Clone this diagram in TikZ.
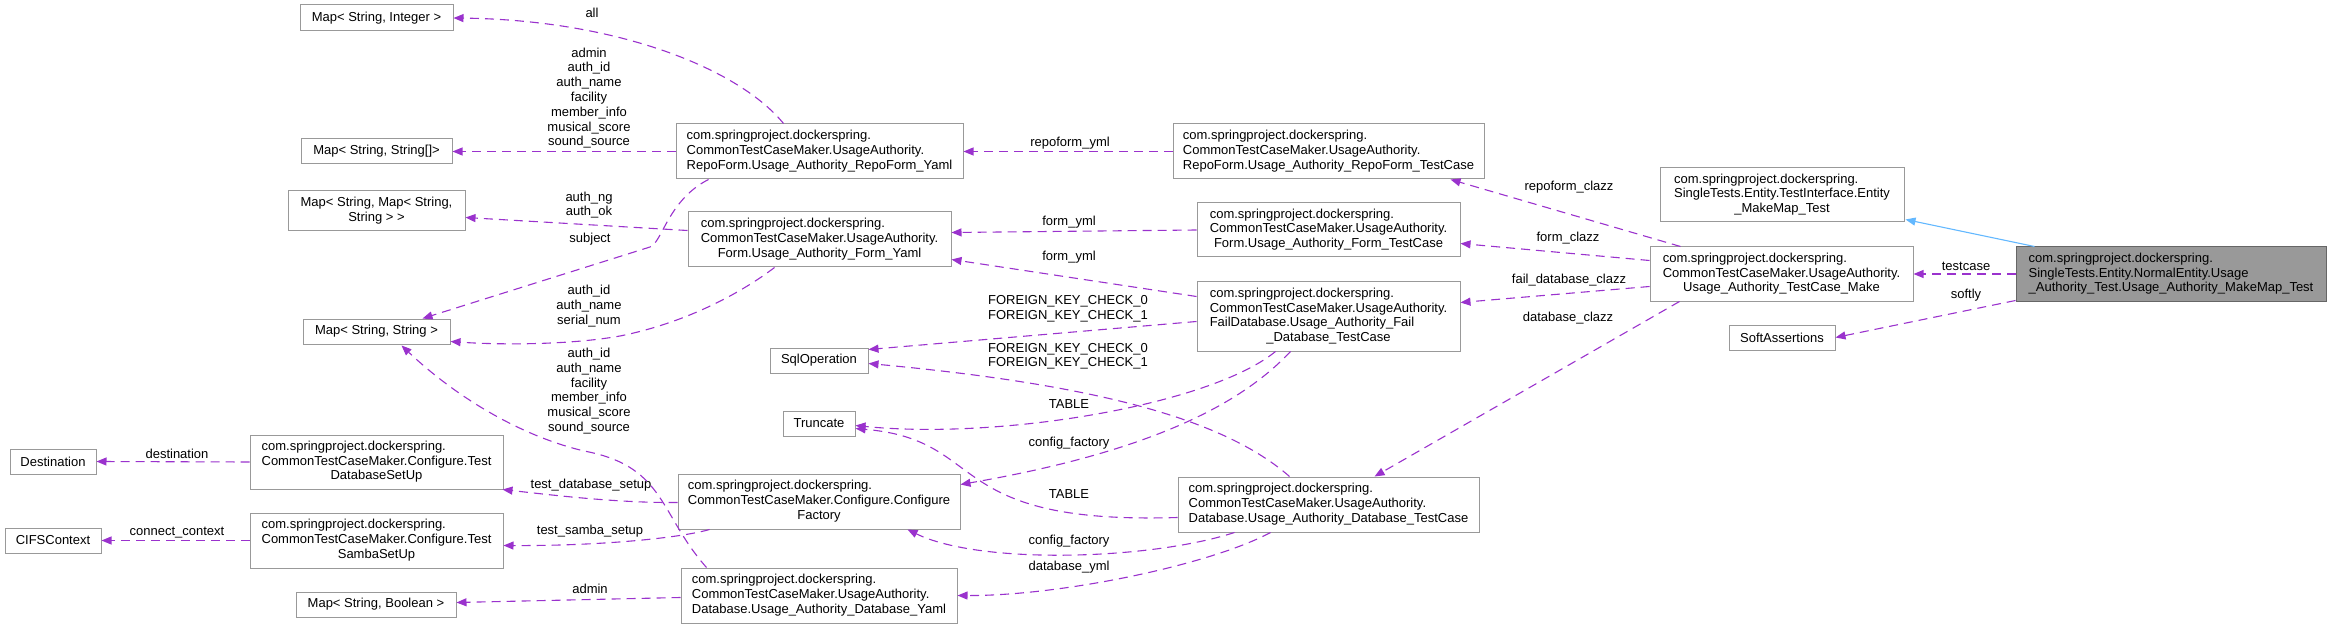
\documentclass[tikz,border=0pt]{standalone}
\usepackage{fontspec}
\usepackage{array}
\setmainfont{Liberation Sans}
\usetikzlibrary{arrows.meta}
\definecolor{edgec}{HTML}{9A32CD}
\definecolor{inhc}{HTML}{63B8FF}
\definecolor{boxb}{HTML}{999999}
\definecolor{mainf}{HTML}{999999}
\definecolor{mainb}{HTML}{666666}
\newcommand{\myst}{\rule[-4.4pt]{0pt}{14.8pt}}
\newcommand{\clsl}[2]{{\renewcommand{\arraystretch}{0}\begin{tabular}{@{}>{\myst}l@{}}#1\\\multicolumn{1}{@{}>{\myst}c@{}}{#2}\end{tabular}}}
\newcommand{\lblc}[1]{{\renewcommand{\arraystretch}{0}\begin{tabular}{@{}>{\myst}c@{}}#1\end{tabular}}}
\tikzset{
 cls/.style={draw=boxb, line width=1pt, fill=white, inner sep=0pt, font=\fontsize{13}{14.8}\selectfont},
 mainbox/.style={cls, draw=mainb, fill=mainf},
 uses/.style={draw=edgec, line width=1.1pt, dash pattern=on 9pt off 6pt, -{Triangle[length=10pt,width=8pt]}},
 inh/.style={draw=inhc, line width=1.1pt, -{Triangle[length=10pt,width=8pt]}},
 lbl/.style={font=\fontsize{13}{14.8}\selectfont, inner sep=0pt},
}
\begin{document}
\begin{tikzpicture}[x=1pt,y=-1pt]
\useasboundingbox (0,0) rectangle (2331,628);
% class boxes
\node[cls, minimum width=153pt, minimum height=26pt] (mInt) at (376.5,18) {Map< String, Integer >};
\node[cls, minimum width=151pt, minimum height=25pt] (mArr) at (376.5,151.5) {Map< String, String[]>};
\node[cls, minimum width=177pt, minimum height=40pt] (mMap) at (376.5,211) {\clsl{Map< String, Map< String,}{String > >}};
\node[cls, minimum width=147pt, minimum height=25pt] (mStr) at (376.5,331.5) {Map< String, String >};
\node[cls, minimum width=86pt, minimum height=25pt] (dest) at (53,461.5) {Destination};
\node[cls, minimum width=96pt, minimum height=25pt] (cifs) at (53,540.5) {CIFSContext};
\node[cls, minimum width=253pt, minimum height=54pt] (tdb) at (376.5,462) {\clsl{com.springproject.dockerspring.\\CommonTestCaseMaker.Configure.Test}{DatabaseSetUp}};
\node[cls, minimum width=253pt, minimum height=55pt] (tsmb) at (376.5,540.5) {\clsl{com.springproject.dockerspring.\\CommonTestCaseMaker.Configure.Test}{SambaSetUp}};
\node[cls, minimum width=160pt, minimum height=25pt] (mBool) at (376,604.5) {Map< String, Boolean >};
\node[cls, minimum width=287pt, minimum height=55pt] (rfy) at (819.5,151.5) {\clsl{com.springproject.dockerspring.\\CommonTestCaseMaker.UsageAuthority.}{RepoForm.Usage\_Authority\_RepoForm\_Yaml}};
\node[cls, minimum width=263pt, minimum height=55pt] (fy) at (819.5,239.5) {\clsl{com.springproject.dockerspring.\\CommonTestCaseMaker.UsageAuthority.}{Form.Usage\_Authority\_Form\_Yaml}};
\node[cls, minimum width=98pt, minimum height=25pt] (sql) at (819,360.5) {SqlOperation};
\node[cls, minimum width=72pt, minimum height=25pt] (trunc) at (819,423.5) {Truncate};
\node[cls, minimum width=282pt, minimum height=55pt] (cf) at (819,501.5) {\clsl{com.springproject.dockerspring.\\CommonTestCaseMaker.Configure.Configure}{Factory}};
\node[cls, minimum width=276pt, minimum height=55pt] (dby) at (819,595.5) {\clsl{com.springproject.dockerspring.\\CommonTestCaseMaker.UsageAuthority.}{Database.Usage\_Authority\_Database\_Yaml}};
\node[cls, minimum width=311pt, minimum height=55pt] (rftc) at (1328.5,151.5) {\clsl{com.springproject.dockerspring.\\CommonTestCaseMaker.UsageAuthority.}{RepoForm.Usage\_Authority\_RepoForm\_TestCase}};
\node[cls, minimum width=263pt, minimum height=54pt] (ftc) at (1328.5,230) {\clsl{com.springproject.dockerspring.\\CommonTestCaseMaker.UsageAuthority.}{Form.Usage\_Authority\_Form\_TestCase}};
\node[cls, minimum width=263pt, minimum height=69pt] (fdtc) at (1328.5,316.5) {\clsl{com.springproject.dockerspring.\\CommonTestCaseMaker.UsageAuthority.\\FailDatabase.Usage\_Authority\_Fail}{\_Database\_TestCase}};
\node[cls, minimum width=301pt, minimum height=55pt] (dtc) at (1328.5,504.5) {\clsl{com.springproject.dockerspring.\\CommonTestCaseMaker.UsageAuthority.}{Database.Usage\_Authority\_Database\_TestCase}};
\node[cls, minimum width=244pt, minimum height=54pt] (ent) at (1782,195) {\clsl{com.springproject.dockerspring.\\SingleTests.Entity.TestInterface.Entity}{\_MakeMap\_Test}};
\node[cls, minimum width=263pt, minimum height=54pt] (tcm) at (1781.5,274) {\clsl{com.springproject.dockerspring.\\CommonTestCaseMaker.UsageAuthority.}{Usage\_Authority\_TestCase\_Make}};
\node[cls, minimum width=106pt, minimum height=25pt] (soft) at (1782,337.5) {SoftAssertions};
\node[mainbox, minimum width=310pt, minimum height=54pt] (main) at (2171,274) {\clsl{com.springproject.dockerspring.\\SingleTests.Entity.NormalEntity.Usage}{\_Authority\_Test.Usage\_Authority\_MakeMap\_Test}};
% edges
\draw[uses] (main.west) -- (tcm.east);
\draw[uses] ([yshift=1pt]main.south west) -- (soft.east);
\draw[inh] ([xshift=19pt]main.north west) -- ([xshift=1pt,yshift=3pt]ent.south east);
\draw[uses] ([xshift=31pt]tcm.north west) -- ([xshift=-34pt]rftc.south east);
\draw[uses] ([yshift=-14pt]tcm.north west) -- ([yshift=-41pt]ftc.north east);
\draw[uses] ([yshift=-40pt]tcm.north west) -- ([yshift=-21pt]fdtc.north east);
\draw[uses] ([xshift=30pt]tcm.south west) -- ([xshift=197pt]dtc.north west);
\draw[uses] (rftc.west) -- (rfy.east);
\draw[uses] (ftc.west) -- ([yshift=-21pt]fy.north east);
\draw[uses] ([yshift=-15pt]fdtc.north west) -- ([yshift=-48pt]fy.north east);
\draw[uses] ([yshift=-40pt]fdtc.north west) -- ([yshift=-2pt]sql.north east);
\draw[uses] ([xshift=112pt]dtc.north west) .. controls (1225,420) and (1100,385) .. ([yshift=-16pt]sql.north east);
\draw[uses] ([xshift=79pt]fdtc.south west) .. controls (1210,405) and (1000,440) .. ([yshift=-15pt]trunc.north east);
\draw[uses] ([xshift=94pt]fdtc.south west) .. controls (1245,400) and (1160,450) .. ([yshift=-11pt]cf.north east);
\draw[uses] ([yshift=-41pt]dtc.north west) .. controls (940,525) and (990,440) .. ([yshift=-18pt]trunc.north east);
\draw[uses] ([xshift=57pt]dtc.south west) .. controls (1150,560) and (980,565) .. ([xshift=-53pt]cf.south east);
\draw[uses] ([xshift=93pt]dtc.south west) .. controls (1210,565) and (1060,596) .. ([yshift=-28pt]dby.north east);
\draw[uses] ([yshift=-29pt]cf.north west) .. controls (620,503) and (560,496) .. ([xshift=-1pt]tdb.south east);
\draw[uses] ([xshift=32pt]cf.south west) .. controls (680,538) and (600,546) .. ([yshift=-33pt]tsmb.north east);
\draw[uses] (tdb.west) -- (dest.east);
\draw[uses] (tsmb.west) -- (cifs.east);
\draw[uses] ([yshift=-30pt]dby.north west) -- ([yshift=-11pt]mBool.north east);
\draw[uses] ([xshift=26pt]dby.north west) .. controls (660,515) and (665,468) .. (589,452) .. controls (540,442) and (470,410) .. ([xshift=99pt,yshift=-1pt]mStr.south west);
\draw[uses] ([xshift=108pt]rfy.north west) .. controls (740,70) and (620,20) .. (mInt.east);
\draw[uses] (rfy.west) -- (mArr.east);
\draw[uses] ([xshift=33pt]rfy.south west) .. controls (668,200) and (662,243) .. (650,247) -- ([xshift=120pt]mStr.north west);
\draw[uses] ([yshift=-19pt]fy.north west) -- ([yshift=-27pt]mMap.north east);
\draw[uses] ([xshift=87pt]fy.south west) .. controls (745,290) and (690,322) .. (620,336) .. controls (570,345) and (500,345) .. ([yshift=-23pt]mStr.north east);
% labels
\node[lbl] (l1) at (592,13) {all};
\node[lbl] (l2) at (589,98.5) {\lblc{admin\\auth\_id\\auth\_name\\facility\\member\_info\\musical\_score\\sound\_source}};
\node[lbl] (l3) at (589,205.5) {\lblc{auth\_ng\\auth\_ok}};
\node[lbl] (l4) at (590,239) {subject};
\node[lbl] (l5) at (589,306.5) {\lblc{auth\_id\\auth\_name\\serial\_num}};
\node[lbl] (l6) at (589,391.5) {\lblc{auth\_id\\auth\_name\\facility\\member\_info\\musical\_score\\sound\_source}};
\node[lbl] (l7) at (177,454) {destination};
\node[lbl] (l8) at (177,533) {connect\_context};
\node[lbl] (l9) at (591,485) {test\_database\_setup};
\node[lbl] (l10) at (590,531) {test\_samba\_setup};
\node[lbl] (l11) at (590,589) {admin};
\node[lbl] (l12) at (1070,143) {repoform\_yml};
\node[lbl] (l13) at (1069,222) {form\_yml};
\node[lbl] (l14) at (1069,257) {form\_yml};
\node[lbl] (l15) at (1068,309) {\lblc{FOREIGN\_KEY\_CHECK\_0\\FOREIGN\_KEY\_CHECK\_1}};
\node[lbl] (l16) at (1068,356.5) {\lblc{FOREIGN\_KEY\_CHECK\_0\\FOREIGN\_KEY\_CHECK\_1}};
\node[lbl] (l17) at (1069,404) {TABLE};
\node[lbl] (l18) at (1069,443) {config\_factory};
\node[lbl] (l19) at (1069,494) {TABLE};
\node[lbl] (l20) at (1069,541) {config\_factory};
\node[lbl] (l21) at (1069,567) {database\_yml};
\node[lbl] (l22) at (1569,187) {repoform\_clazz};
\node[lbl] (l23) at (1568,238) {form\_clazz};
\node[lbl] (l24) at (1569,280) {fail\_database\_clazz};
\node[lbl] (l25) at (1568,318) {database\_clazz};
\node[lbl] (l26) at (1966,266) {testcase};
\node[lbl] (l27) at (1966,295) {softly};
\end{tikzpicture}
\end{document}
